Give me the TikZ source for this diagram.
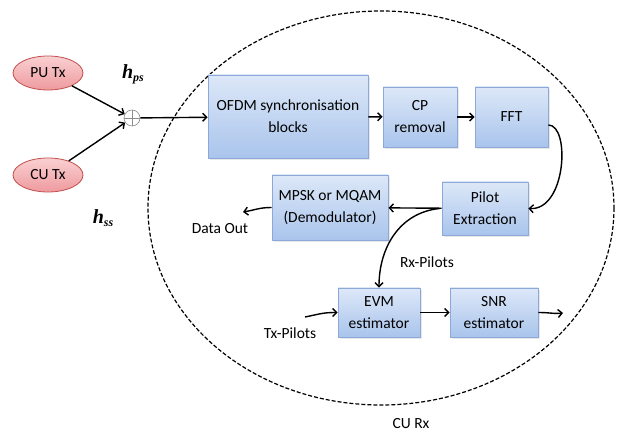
\documentclass[tikz,border=0pt]{standalone}
\usepackage{fontspec}
\setmainfont{Carlito}
\newfontfamily\tmsfont{Liberation Serif}
\usetikzlibrary{arrows.meta,shadows,shapes.geometric}

\definecolor{boxtop}{HTML}{DDE8F8}
\definecolor{boxbot}{HTML}{A9C4EC}
\definecolor{boxline}{HTML}{8CA8D8}
\definecolor{pinktop}{HTML}{FAD0D2}
\definecolor{pinkbot}{HTML}{EE9A9E}
\definecolor{pinkline}{HTML}{C0504D}

\tikzset{
  txt/.style={font=\fontsize{15.5}{22}\selectfont, align=center, inner sep=1pt},
  blockbox/.style={txt, draw=boxline, line width=0.8pt, top color=boxtop, bottom color=boxbot,
    drop shadow={shadow xshift=1.5pt, shadow yshift=-2pt, opacity=0.18}},
  txnode/.style={txt, ellipse, draw=pinkline, line width=0.8pt, top color=pinktop, bottom color=pinkbot},
  flow/.style={line width=1.4pt, -{Straight Barb[length=4pt,width=8pt]}},
  chan/.style={font=\tmsfont\bfseries\itshape\fontsize{20}{20}\selectfont, inner sep=1pt},
}

\begin{document}
\begin{tikzpicture}[x=1pt,y=-1pt]
\useasboundingbox (0,0) rectangle (618,435);

% receiver boundary
\draw[line width=1.2pt, dash pattern=on 4pt off 2pt] (381,208) ellipse [x radius=233, y radius=197];

% transmitters and channel sum
\node[txnode, minimum width=70pt, minimum height=34pt] (pu) at (48,73) {PU Tx};
\node[txnode, minimum width=70pt, minimum height=34pt] (cu) at (48,175) {CU Tx};
\node[circle, draw=black!45, line width=0.6pt, minimum size=16pt, inner sep=0pt, fill=white] (sum) at (132,118) {};
\draw[black!45, line width=0.6pt] (sum.north) -- (sum.south) (sum.west) -- (sum.east);
\node[chan] (hps) at (133,74) {h\raisebox{-0.35ex}{\fontsize{12}{12}\selectfont ps}};
\node[chan] (hss) at (103,218) {h\raisebox{-0.35ex}{\fontsize{12}{12}\selectfont ss}};

% processing blocks
\node[blockbox, minimum width=160pt, minimum height=83pt] (ofdm) at (288,116.5) {OFDM synchronisation\\blocks};
\node[blockbox, minimum width=74pt, minimum height=60pt] (cp) at (420,117) {CP\\removal};
\node[blockbox, minimum width=73pt, minimum height=60pt] (fft) at (511.5,117) {FFT};
\node[blockbox, minimum width=86pt, minimum height=53pt] (pilot) at (485,208.5) {Pilot\\Extraction};
\node[blockbox, minimum width=116pt, minimum height=65pt] (demod) at (330,207.5) {MPSK or MQAM\\(Demodulator)};
\node[blockbox, minimum width=82pt, minimum height=49pt] (evm) at (379,312.5) {EVM\\estimator};
\node[blockbox, minimum width=88pt, minimum height=49pt] (snr) at (494,312.5) {SNR\\estimator};

% labels
\node[txt] (dataout) at (220,229) {Data Out};
\node[txt] (rxp) at (427,262) {Rx-Pilots};
\node[txt] (txp) at (290,333) {Tx-Pilots};
\node[txt] (curx) at (411,424) {CU Rx};

\coordinate (dataend) at (243,212);
\coordinate (txstart) at (305,317);
\coordinate (snrend) at (563,313);

% connectors
\draw[flow] (pu) -- (sum);
\draw[flow] (cu) -- (sum);
\draw[flow] (sum) -- (ofdm);
\draw[flow] (ofdm) -- (cp);
\draw[flow] (cp) -- (fft);
\draw[flow] ([yshift=-8pt]fft.east) .. controls +(22,0) and +(38,2) .. (pilot.east);
\draw[flow] (pilot) -- (demod);
\draw[flow] (demod.west) .. controls +(-12,0) and +(12,-2) .. (dataend);
\draw[flow] ([xshift=-2pt]pilot.west) .. controls +(-40,4) and +(0,-40) .. (evm.north);
\draw[flow] (txstart) .. controls +(15,-3) and +(-15,0) .. (evm.west);
\draw[flow] (evm) -- (snr);
\draw[flow] (snr.east) .. controls +(12,0) and +(-10,1) .. (snrend);
\end{tikzpicture}
\end{document}
